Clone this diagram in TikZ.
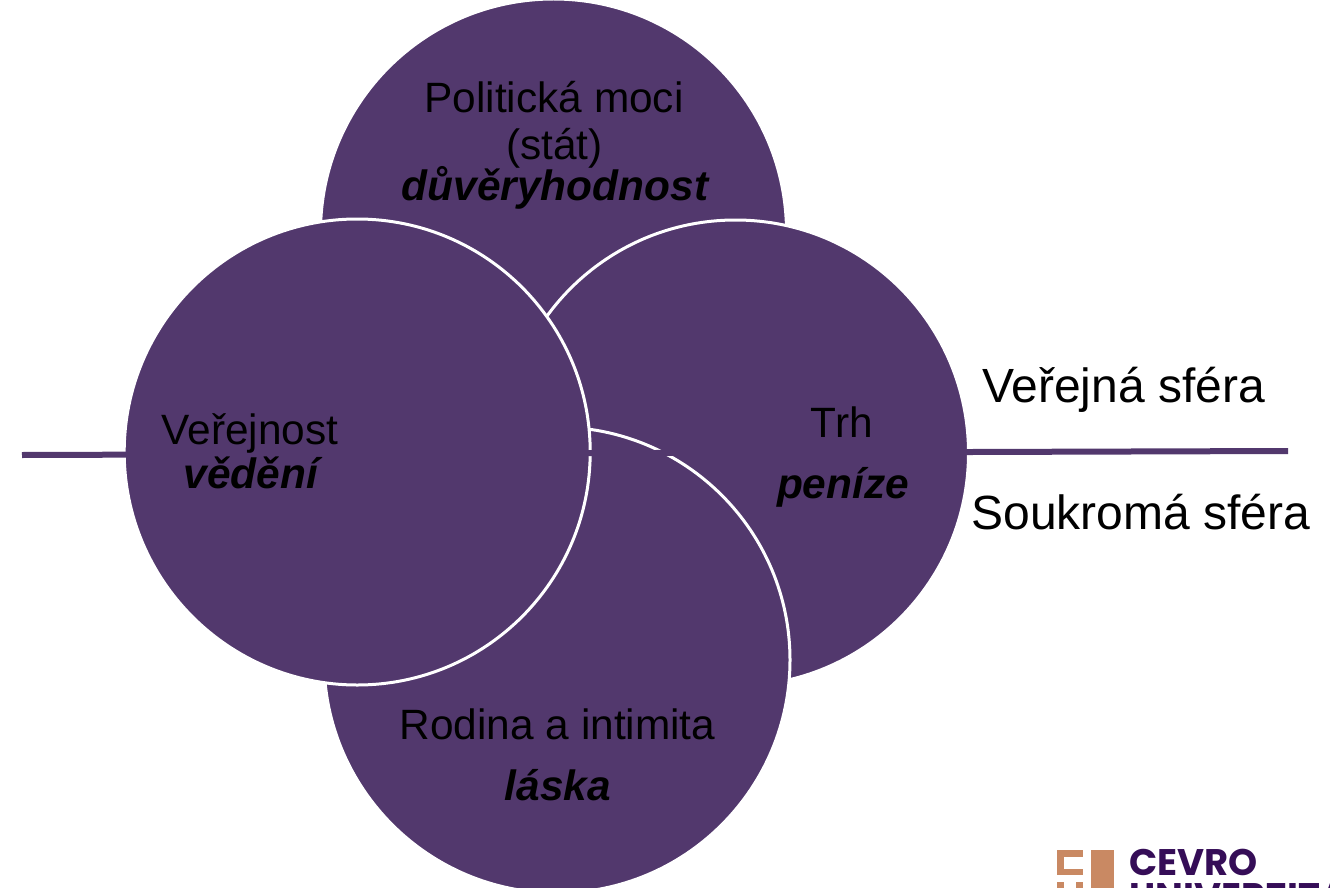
\documentclass[tikz,border=0pt]{standalone}
\usepackage{fontspec}
\setmainfont{Liberation Sans}
\newfontfamily\logofont{Poppins}
\definecolor{circ}{HTML}{52386D}
\definecolor{logoor}{HTML}{C98963}
\definecolor{logopu}{HTML}{350D57}
\tikzset{
  x=1pt,y=-1pt,
  disc/.style={circle,draw=white,line width=3pt,fill=circ,minimum size=466pt,inner sep=0pt,outer sep=0pt},
  lbl/.style={font=\fontsize{42.4}{42.4}\selectfont,anchor=base,inner sep=0pt,text=black},
  em/.style={lbl,font=\fontsize{42.4}{42.4}\selectfont\bfseries\itshape},
  bar/.style={fill=logoor,draw=none},
  logotxt/.style={font=\logofont\fontsize{37}{37}\selectfont\bfseries,text=logopu,anchor=base west,inner sep=0pt}
}
\begin{document}
\begin{tikzpicture}
\useasboundingbox (0,0) rectangle (1330,888);
\clip (0,0) rectangle (1330,888);
\node[disc] (top) at (553.5,232) {};
\node[disc] (right) at (735.5,453) {};
\node[disc] (bottom) at (557,660) {};
\node[disc] (left) at (357.2,452) {};
\coordinate (la) at (22,455);
\coordinate (lb) at (1288,451);
\draw[circ,line width=6pt] (la) -- (lb);
\node[lbl] (t1) at (554,113) {Politická moci};
\node[lbl] (t2) at (554.5,159) {(stát)};
\node[em] (t3) at (555,200) {důvěryhodnost};
\node[lbl] (l1) at (250,444) {Veřejnost};
\node[em] (l2) at (251,488) {vědění};
\node[lbl] (r1) at (842,437) {Trh};
\node[em] (r2) at (843,498) {peníze};
\node[lbl] (b1) at (557.5,739) {Rodina a intimita};
\node[em] (b2) at (558,800) {láska};
\node[lbl,font=\fontsize{48}{48}\selectfont] (s1) at (1123.5,402) {Veřejná sféra};
\node[lbl,font=\fontsize{48}{48}\selectfont] (s2) at (1141,529) {Soukromá sféra};
\fill[bar] (1057,850) rectangle (1083,857);
\fill[bar] (1057,850) rectangle (1064,875);
\fill[bar] (1057,869) rectangle (1083,875);
\fill[bar] (1057,882) rectangle (1064,888);
\fill[bar] (1076,882) rectangle (1083,888);
\fill[bar] (1091,850) rectangle (1114,888);
\node[logotxt] (c1) at (1129,875) {CEVRO};
\node[logotxt] (c2) at (1129,909) {UNIVERZITA};
\end{tikzpicture}
\end{document}
